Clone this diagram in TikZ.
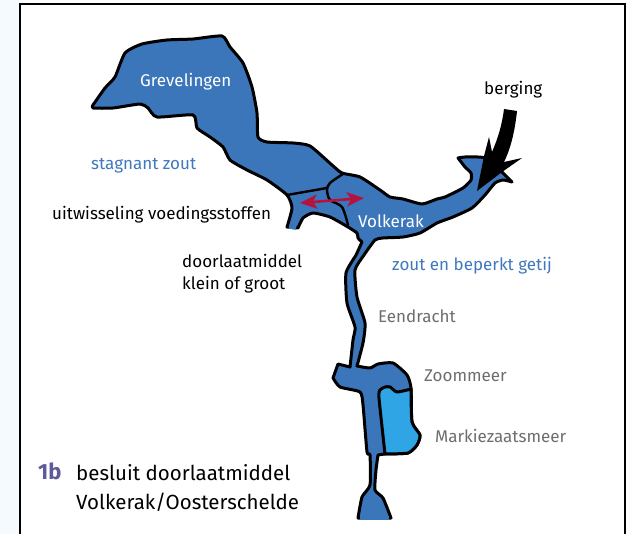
\documentclass[tikz,border=0pt]{standalone}
\usepackage{fontspec}
\setmainfont{Fira Sans}[Scale=1]
\usetikzlibrary{arrows.meta}
\definecolor{water}{HTML}{3B75BA}
\definecolor{lake}{HTML}{2FA5E5}
\definecolor{txtblue}{HTML}{3F78BE}
\definecolor{txtgray}{HTML}{6E6E6E}
\definecolor{txtpurple}{HTML}{5F5A9B}
\definecolor{redarrow}{HTML}{B5123E}
\definecolor{pale}{HTML}{F5FAFF}
\tikzset{
  coast/.style={draw=black,line width=3pt,line join=round},
  inner/.style={draw=black,line width=2.4pt,line cap=round},
  gap/.style={draw=water,line width=3.6pt},
  lbl/.style={anchor=west,inner sep=0pt,yshift=-1.5pt,font=\fontsize{17}{17}\selectfont},
  big/.style={anchor=west,inner sep=0pt,font=\fontsize{20.5}{20.5}\selectfont}
}
\begin{document}
\begin{tikzpicture}[x=1pt,y=-1pt]
\useasboundingbox (0,0) rectangle (626,534);
\fill[pale] (0,0) rectangle (20,534);
\fill[white] (20,4) rectangle (625,534);
\draw[black,line width=2pt] (20,534) -- (20,4) -- (625,4) -- (625,534);
% water
\draw[coast,fill=water] plot[smooth,tension=0.35] coordinates {
(93,105)(105,88)(115,77)(125,53)(142,44)(167,40)(193,39)(222,36)(230,47)(243,63)(252,87)(257,113)(258,137)(267,142)(293,143)(310,146)(332,165)(342,173)(360,177)(380,190)(390,197)(403,199)(422,204)(437,199)(445,197)(463,188)(471,180)(471,173)(465,167)(458,158)}
-- plot[smooth,tension=0.35] coordinates {(458,158)(465,157)(485,158)(503,173)(508,178)(512,182)}
-- plot[smooth,tension=0.35] coordinates {(512,182)(503,180)(495,183)(485,195)(472,208)(453,217)(437,223)(420,233)(403,237)(383,238)(375,240)(364,255)(355,270)(357,297)(365,323)(363,343)(357,366)}
-- plot[smooth,tension=0.35] coordinates {(357,366)(370,368)(378,364)(393,363)(407,375)(411,388)(412,422)(420,435)(417,445)(408,453)(385,454)(378,455)}
-- plot[smooth,tension=0.35] coordinates {(378,455)(376,470)(375,490)(383,498)(391,518)}
-- (358,518)
-- plot[smooth,tension=0.35] coordinates {(358,518)(362,497)(370,485)(370,455)(367,452)(363,405)(360,392)(340,387)(333,378)}
-- (338,364) -- (350,367)
-- plot[smooth,tension=0.35] coordinates {(350,367)(353,340)(355,327)(347,303)(346,273)(356,255)(362,242)}
-- plot[smooth,tension=0.35] coordinates {(362,242)(358,238)(357,233)(348,227)(330,217)(313,213)(303,218)(298,228)}
-- (287,227)
-- plot[smooth,tension=0.35] coordinates {(287,227)(292,208)(287,195)(267,180)(247,170)(230,160)(223,147)(210,137)(197,128)(193,115)(157,117)(148,108)(140,104)(113,108)(93,108)(93,105)}
-- cycle;
\draw[gap] (360,518) -- (389,518);
\draw[gap] (289,227) -- (296,228);
% lake
\draw[coast,fill=lake] plot[smooth,tension=0.35] coordinates {(385,454)(379,398)(380,390)(385,387)(390,387)(397,392)(411,389)}
-- plot[smooth,tension=0.35] coordinates {(411,389)(412,422)(420,435)(417,445)(408,453)(385,454)} -- cycle;
% inner lines
\draw[inner] (287,195) -- (327,188);
\draw[inner] plot[smooth,tension=0.5] coordinates {(343,174)(330,183)(327,190)(330,200)(342,207)(348,225)};
% berging arrow
\fill[black] (504,109) -- (517,111) .. controls (515,130) and (511,148) .. (504,162) -- (522,158) -- (502,172) -- (477,191) -- (484,156) -- (489,137) -- (492,152) .. controls (498,138) and (502,125) .. (504,109) -- cycle;
% red arrow
\draw[redarrow,line width=2.6pt,{Stealth[length=17pt,width=14pt,inset=4pt]}-{Stealth[length=17pt,width=14pt,inset=4pt]}] (300,203) -- (364,198);
% text
\node[lbl,white] (grev) at (140,80) {Grevelingen};
\node[lbl,white] (volk) at (358,220) {Volkerak};
\node[lbl,txtblue] (stag) at (91,164) {stagnant zout};
\node[lbl,black] (uitw) at (52,213) {uitwisseling voedingsstoffen};
\node[lbl,black] (door) at (182,259) {doorlaatmiddel};
\node[lbl,black] (klein) at (182,283) {klein of groot};
\node[lbl,black] (berg) at (484,88) {berging};
\node[lbl,txtblue] (getij) at (392,264) {zout en beperkt getij};
\node[lbl,txtgray] (eend) at (378,315) {Eendracht};
\node[lbl,txtgray] (zoom) at (424,374) {Zoommeer};
\node[lbl,txtgray] (mark) at (435,434) {Markiezaatsmeer};
\node[big,txtpurple,font=\fontsize{22}{22}\selectfont\bfseries] (nr) at (38,471) {1b};
\node[big,black] (b1) at (76,473) {besluit doorlaatmiddel};
\node[big,black] (b2) at (76,502) {Volkerak/Oosterschelde};
\end{tikzpicture}
\end{document}
